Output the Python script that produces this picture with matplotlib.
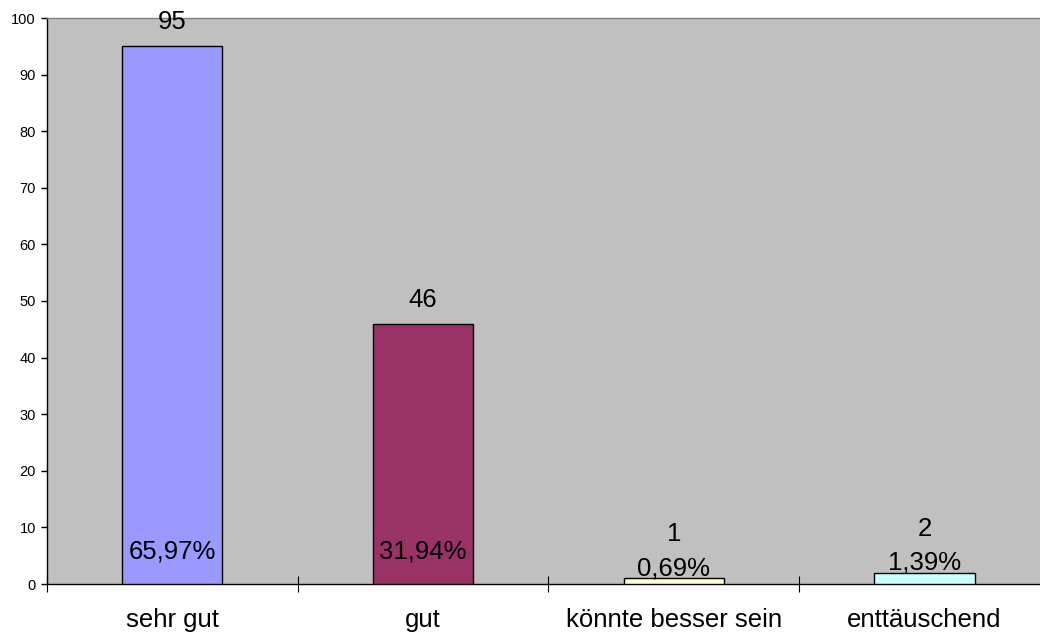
import matplotlib
matplotlib.use("Agg")
import matplotlib.pyplot as plt
import numpy as np

categories = ["sehr gut", "gut", "könnte besser sein", "enttäuschend"]
counts = [95, 46, 1, 2]
percents = ["65,97%", "31,94%", "0,69%", "1,39%"]
colors = ["#9999FF", "#993366", "#FFFFCC", "#CCFFFF"]
yticks = list(range(0, 101, 10))

plt.rcParams['font.family'] = ['Liberation Sans', 'DejaVu Sans']

W, H = 1040, 639
fig = plt.figure(figsize=(W / 100, H / 100), dpi=100)
left, right, bottom, top = 47, 1040, 584, 18
ax = fig.add_axes([left / W, (H - bottom) / H, (right - left) / W, (bottom - top) / H])
ax.set_facecolor("#C0C0C0")

x = np.arange(len(categories))
ax.bar(x, counts, width=0.4, color=colors, edgecolor="black", linewidth=1.0, zorder=3)

ax.set_ylim(0, 100)
ax.set_xlim(-0.5, -0.5 + (right - left) / 250.7)
ax.set_yticks(yticks)
ax.set_yticklabels([str(t) for t in yticks], fontsize=10.5)
ax.tick_params(axis='y', direction='out', length=4, width=1, pad=4)

# category labels at centers, boundary ticks as minor
ax.set_xticks(x)
ax.set_xticklabels(categories, fontsize=18.5)
ax.tick_params(axis='x', which='major', length=0, pad=17)
ax.set_xticks(np.arange(-0.5, len(categories) - 0.5, 1.0), minor=True)
ax.tick_params(axis='x', which='minor', direction='inout', length=11.5, width=0.8)

for s in ['left', 'bottom']:
    ax.spines[s].set_color('black')
    ax.spines[s].set_linewidth(1.0)
ax.spines['top'].set_color('#808080')
ax.spines['top'].set_linewidth(1.0)
ax.spines['right'].set_visible(False)

px = 0.72  # points per pixel
for i, (v, p) in enumerate(zip(counts, percents)):
    if v >= 10:
        ax.annotate(p, (i, 0), xytext=(0, 32 * px), textcoords='offset points',
                    ha='center', va='center', fontsize=18.5, zorder=4)
        ax.annotate(str(v), (i, v), xytext=(0, 24 * px), textcoords='offset points',
                    ha='center', va='center', fontsize=18.5, zorder=4)
    else:
        ax.annotate(p, (i, v), xytext=(0, 10 * px), textcoords='offset points',
                    ha='center', va='center', fontsize=18.5, zorder=4)
        ax.annotate(str(v), (i, v), xytext=(0, 44 * px), textcoords='offset points',
                    ha='center', va='center', fontsize=18.5, zorder=4)

fig.savefig("out.png", dpi=100)
